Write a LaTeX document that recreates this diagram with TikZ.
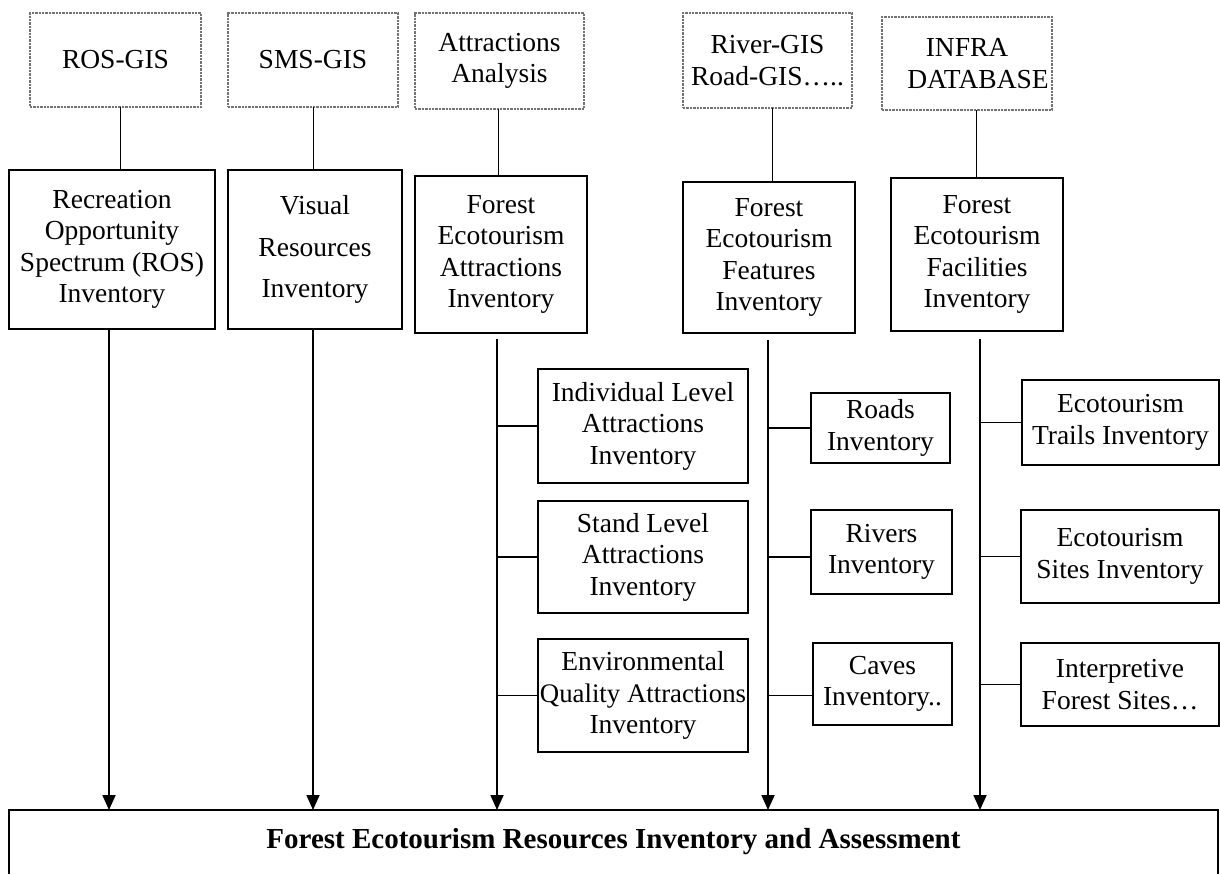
\documentclass[tikz,border=0pt]{standalone}
\usepackage{fontspec}
\setmainfont{Liberation Serif}
\usetikzlibrary{arrows.meta}
\newcommand\mybox[7]{%
  \pgfmathsetmacro\mbw{(#4-#2)*0.5}%
  \pgfmathsetmacro\mbh{(#5-#3)*0.5}%
  \node[#6, minimum width=\mbw pt, minimum height=\mbh pt] (#1) at ({(#2+#4)/2},{(#3+#5)/2}) {#7};}
\begin{document}
\begin{tikzpicture}[x=0.5pt,y=-0.5pt,
  every node/.style={font=\fontsize{13.75pt}{15.75pt}\selectfont, align=center, inner sep=0pt, outer sep=0pt},
  src/.style={draw=black!55, line width=0.75pt, dash pattern=on 1.2pt off 0.5pt},
  mid/.style={draw, line width=1pt},
  sub/.style={draw, line width=0.9pt},
  link/.style={line width=0.5pt},
  branch/.style={line width=0.6pt},
  trunk/.style={line width=0.9pt},
  arr/.style={trunk, -{Triangle[length=7.5pt,width=6.5pt]}}]
\useasboundingbox (0,0) rectangle (1220,874);

% source boxes
\mybox{ros}{30}{13}{201}{107}{src}{ROS-GIS}
\mybox{sms}{228}{13}{398}{107}{src}{SMS-GIS}
\mybox{ana}{415}{13}{584}{109}{src}{Attractions\\Analysis}
\mybox{riv}{683}{13}{852}{108}{src}{River-GIS\\Road-GIS…..}
\mybox{infra}{882}{17}{1052}{110}{src}{INFRA\\\hspace*{11pt}DATABASE}

% inventory boxes
\mybox{rec}{9}{170}{215}{329}{mid}{Recreation\\Opportunity\\Spectrum (ROS)\\Inventory}
\mybox{vis}{228}{170}{402}{329}{mid}{Visual\\[5pt]Resources\\[5pt]Inventory}
\mybox{att}{415}{176}{587}{333}{mid}{Forest\\Ecotourism\\Attractions\\Inventory}
\mybox{fea}{683}{182}{855}{333}{mid}{Forest\\Ecotourism\\Features\\Inventory}
\mybox{fac}{891}{178}{1063}{331}{mid}{Forest\\Ecotourism\\Facilities\\Inventory}

% sub boxes
\mybox{ind}{538}{369}{748}{483}{sub}{Individual Level\\Attractions\\Inventory}
\mybox{sta}{538}{501}{748}{613}{sub}{Stand Level\\Attractions\\Inventory}
\mybox{env}{538}{639}{748}{752}{sub}{Environmental\\{\fontsize{13.4pt}{15.75pt}\selectfont Quality Attractions}\\Inventory}
\mybox{roads}{811}{393}{950}{463}{sub}{Roads\\Inventory}
\mybox{rivers}{811}{510}{952}{594}{sub}{Rivers\\Inventory}
\mybox{caves}{813}{643}{952}{725}{sub}{Caves\\Inventory..}
\mybox{trails}{1022}{380}{1219}{465}{sub}{Ecotourism\\Trails Inventory}
\mybox{sites}{1021}{510}{1219}{603}{sub}{Ecotourism\\Sites Inventory}
\mybox{interp}{1021}{643}{1219}{726}{sub}{Interpretive\\Forest Sites…}

% bottom box
\mybox{fe}{9}{810}{1218}{874}{font=\fontsize{14.5pt}{16pt}\selectfont\bfseries}{Forest Ecotourism Resources Inventory and Assessment}
\draw[line width=0.9pt] (fe.south west) -- (fe.north west) -- (fe.north east) -- (fe.south east);

% x positions of the vertical lines
\coordinate (c1) at (120,0);
\coordinate (c2) at (313,0);
\coordinate (c3) at (498,0);
\coordinate (c4) at (772,0);
\coordinate (c5) at (976,0);
\coordinate (t1) at (109,0);
\coordinate (t2) at (313,0);
\coordinate (t3) at (497,0);
\coordinate (t4) at (768,0);
\coordinate (t5) at (980,0);

% source to inventory
\draw[link] (ros.south -| c1) -- (rec.north -| c1);
\draw[link] (sms.south -| c2) -- (vis.north -| c2);
\draw[link] (ana.south -| c3) -- (att.north -| c3);
\draw[link] (riv.south -| c4) -- (fea.north -| c4);
\draw[link] (infra.south -| c5) -- (fac.north -| c5);

% trunks with arrows
\draw[arr] (rec.south -| t1) -- (t1 |- fe.north);
\draw[arr] (vis.south -| t2) -- (t2 |- fe.north);
\draw[arr] ([yshift=-3pt]att.south -| t3) -- (t3 |- fe.north);
\draw[arr] ([yshift=-3.5pt]fea.south -| t4) -- (t4 |- fe.north);
\draw[arr] ([yshift=-4pt]fac.south -| t5) -- (t5 |- fe.north);

% branches
\draw[branch] (ind.west) -- (ind.west -| t3);
\draw[branch] (sta.west) -- (sta.west -| t3);
\draw[branch] (env.west) -- (env.west -| t3);
\draw[branch] (roads.west) -- (roads.west -| t4);
\draw[branch] (rivers.west |- sta.west) -- (t4 |- sta.west);
\draw[branch] (caves.west |- env.west) -- (t4 |- env.west);
\draw[branch] (trails.west) -- (trails.west -| t5);
\draw[branch] (sites.west) -- (sites.west -| t5);
\draw[branch] (interp.west) -- (interp.west -| t5);
\end{tikzpicture}
\end{document}
